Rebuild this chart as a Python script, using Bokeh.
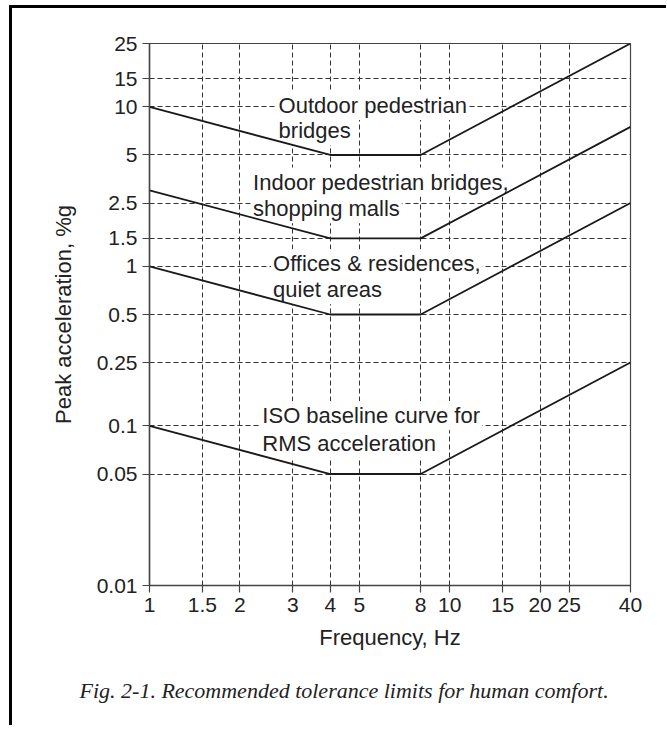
from bokeh.plotting import figure
from bokeh.models import FixedTicker, Label, Title
from bokeh.embed import file_html
from bokeh.resources import INLINE

# ---- data ----
freq_hz = [1, 4, 8, 40]
iso_baseline = [0.1, 0.05, 0.05, 0.25]
offices_residences = [1.0, 0.5, 0.5, 2.5]
indoor_bridges_malls = [3.0, 1.5, 1.5, 7.5]
outdoor_bridges = [10.0, 5.0, 5.0, 25.0]
series = [iso_baseline, offices_residences, indoor_bridges_malls, outdoor_bridges]

x_ticks = [1, 1.5, 2, 3, 4, 5, 8, 10, 15, 20, 25, 40]
x_tick_labels = ["1", "1.5", "2", "3", "4", "5", "8", "10", "15", "20", "25", "40"]
y_ticks = [0.01, 0.05, 0.1, 0.25, 0.5, 1, 1.5, 2.5, 5, 10, 15, 25]
y_tick_labels = ["0.01", "0.05", "0.1", "0.25", "0.5", "1", "1.5", "2.5", "5", "10", "15", "25"]

# curve annotations: text, x (Hz), y (%g) of the left / baseline anchor
note_texts = ["Outdoor pedestrian", "bridges",
              "Indoor pedestrian bridges,", "shopping malls",
              "Offices & residences,", "quiet areas",
              "ISO baseline curve for", "RMS acceleration"]
note_x = [2.65, 2.65, 2.18, 2.18, 2.54, 2.54, 2.34, 2.34]
note_y = [10.2, 7.12, 3.38, 2.30, 1.04, 0.714, 0.116, 0.078]

x_label = "Frequency, Hz"
y_label = "Peak acceleration, %g"
caption = "Fig. 2-1.  Recommended tolerance limits for human comfort."

SANS = "Liberation Sans"
SERIF = "Liberation Serif"

p = figure(x_axis_type="log", y_axis_type="log",
           x_range=(1, 40), y_range=(0.01, 25),
           frame_width=481, frame_height=542,
           min_border_left=137, min_border_right=36,
           min_border_top=35, min_border_bottom=60,
           output_backend="svg", toolbar_location=None)
p.styles = {"border-left": "3px solid black", "border-top": "3px solid black",
            "margin-left": "9px", "margin-top": "5px"}
p.background_fill_color = "white"
p.border_fill_color = "white"
p.outline_line_color = "#444444"
p.outline_line_width = 1.2

for ax in (p.xaxis[0], p.yaxis[0]):
    ax.axis_line_color = "#444444"
    ax.axis_line_width = 1.5
    ax.major_tick_line_color = "#444444"
    ax.major_tick_line_width = 1.2
    ax.major_tick_out = 7
    ax.major_tick_in = 0
    ax.minor_tick_line_color = None
    ax.major_label_text_font = SANS
    ax.major_label_text_font_size = "21px"
    ax.major_label_text_color = "#222222"
    ax.major_label_standoff = 5
    ax.axis_label_text_font = SANS
    ax.axis_label_text_font_size = "22px"
    ax.axis_label_text_font_style = "normal"
    ax.axis_label_text_color = "#222222"

p.xaxis.ticker = FixedTicker(ticks=x_ticks)
p.yaxis.ticker = FixedTicker(ticks=y_ticks)
p.xaxis.major_label_overrides = dict(zip(x_ticks, x_tick_labels))
p.yaxis.major_label_overrides = dict(zip(y_ticks, y_tick_labels))

p.xaxis.axis_label = x_label
p.xaxis.axis_label_standoff = 10
p.yaxis.axis_label = y_label
p.yaxis.axis_label_standoff = 18

for g in (p.xgrid[0], p.ygrid[0]):
    g.grid_line_color = "#333333"
    g.grid_line_width = 1
    g.grid_line_dash = "5 3"
    g.minor_grid_line_color = None

for ys in series:
    p.line(freq_hz, ys, line_color="#1a1a1a", line_width=1.8)

for t, xv, yv in zip(note_texts, note_x, note_y):
    p.add_layout(Label(x=xv, y=yv, text=t, text_font=SANS, text_font_size="22px",
                       text_color="#222222", text_align="left",
                       text_baseline="alphabetic", level="underlay",
                       background_fill_color="white", padding=2))

# caption below the chart
p.add_layout(Title(text=caption, align="left", offset=-70,
                   text_font=SERIF, text_font_style="italic",
                   text_font_size="22px", text_color="#222222",
                   standoff=46), "below")

open("out.html", "w").write(file_html(p, INLINE))
